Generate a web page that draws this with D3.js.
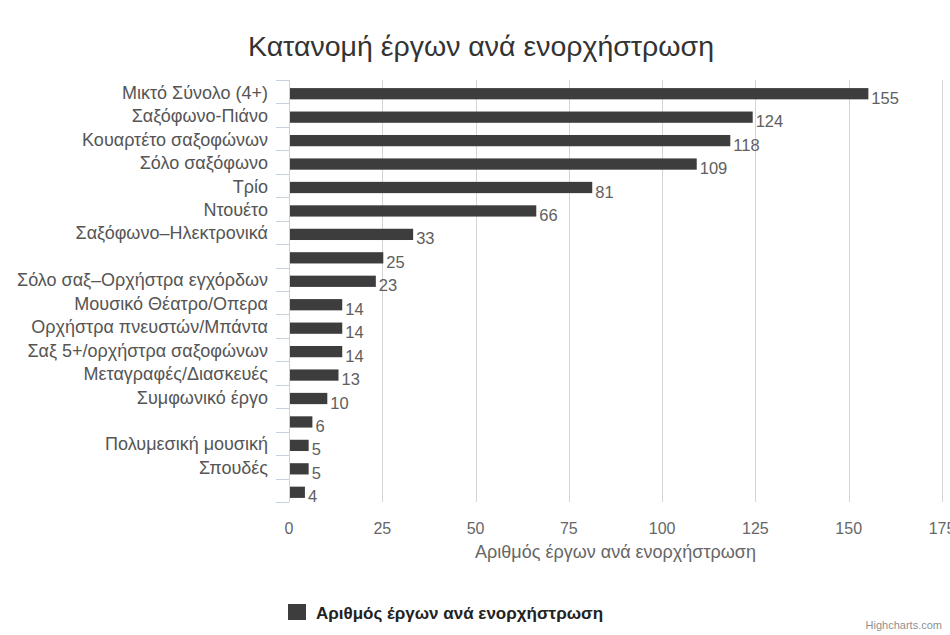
<!DOCTYPE html>
<html><head><meta charset="utf-8">
<script src="https://cdn.jsdelivr.net/npm/d3@7"></script>
<style>body{margin:0;background:#fff}svg{display:block}text{font-family:"Liberation Sans",Arial,sans-serif}</style>
</head><body><svg id="c" width="950" height="635"></svg>
<script>
const categories = ["Μικτό Σύνολο (4+)","Σαξόφωνο-Πιάνο","Κουαρτέτο σαξοφώνων","Σόλο σαξόφωνο","Τρίο","Ντουέτο","Σαξόφωνο–Ηλεκτρονικά","","Σόλο σαξ–Ορχήστρα εγχόρδων","Μουσικό Θέατρο/Οπερα","Ορχήστρα πνευστών/Μπάντα","Σαξ 5+/ορχήστρα σαξοφώνων","Μεταγραφές/Διασκευές","Συμφωνικό έργο","","Πολυμεσική μουσική","Σπουδές",""];
const values = [155,124,118,109,81,66,33,25,23,14,14,14,13,10,6,5,5,4];
const xTicks = [0,25,50,75,100,125,150,175];
const title = "Κατανομή έργων ανά ενορχήστρωση";
const seriesName = "Αριθμός έργων ανά ενορχήστρωση";

const svg = d3.select("#c");
const L = 289, R = 942, T = 80, B = 502;
const x = d3.scaleLinear().domain([0,175]).range([L,R]);
const y = d3.scaleBand().domain(d3.range(categories.length)).range([T,B]).paddingInner(0.52).paddingOuter(0.26);
const yBand = d3.scaleBand().domain(d3.range(categories.length)).range([T,B]);

svg.append("text").attr("x",481).attr("y",56).attr("text-anchor","middle").attr("font-size",28.5).attr("fill","#333").text(title);

// gridlines
svg.append("g").selectAll("line").data(xTicks.slice(1)).join("line")
  .attr("x1",d=>Math.round(x(d))+0.5).attr("x2",d=>Math.round(x(d))+0.5).attr("y1",T).attr("y2",B)
  .attr("stroke","#d4d4d4").attr("stroke-width",1);

// y axis line + ticks
svg.append("line").attr("x1",L+0.5).attr("x2",L+0.5).attr("y1",T).attr("y2",B).attr("stroke","#c8d2dc");
svg.append("g").selectAll("line").data(d3.range(categories.length+1)).join("line")
  .attr("x1",L-13).attr("x2",L).attr("y1",i=>Math.round(T+i*yBand.step())+0.5).attr("y2",i=>Math.round(T+i*yBand.step())+0.5)
  .attr("stroke","#c8d2dc");

// category labels
svg.append("g").selectAll("text").data(categories).join("text")
  .attr("x",268).attr("y",(d,i)=>yBand(i)+yBand.bandwidth()/2+7).attr("text-anchor","end")
  .attr("font-size",18).attr("fill","#555").text(d=>d);

// bars
svg.append("g").selectAll("rect").data(values).join("rect")
  .attr("x",x(0)+1).attr("y",(d,i)=>y(i)+2).attr("width",d=>x(d)-x(0)).attr("height",y.bandwidth())
  .attr("fill","#3d3d3d");

// value labels
svg.append("g").selectAll("text").data(values).join("text")
  .attr("x",d=>x(d)+4).attr("y",(d,i)=>y(i)+2+y.bandwidth()/2+10)
  .attr("font-size",16.5).attr("fill","#606060").text(d=>d);

// x tick labels
svg.append("g").selectAll("text").data(xTicks).join("text")
  .attr("x",d=>x(d)).attr("y",534).attr("text-anchor","middle")
  .attr("font-size",16).attr("fill","#666").text(d=>d);

svg.append("text").attr("x",x(87.5)).attr("y",558).attr("text-anchor","middle")
  .attr("font-size",18).attr("fill","#666").text(seriesName);

// legend
svg.append("rect").attr("x",288).attr("y",604).attr("width",18).attr("height",16).attr("fill","#3d3d3d");
svg.append("text").attr("x",316).attr("y",619).attr("font-size",17).attr("font-weight","bold").attr("fill","#222").text(seriesName);

svg.append("text").attr("x",942).attr("y",629).attr("text-anchor","end").attr("font-size",11).attr("fill","#909090").text("Highcharts.com");
</script></body></html>
